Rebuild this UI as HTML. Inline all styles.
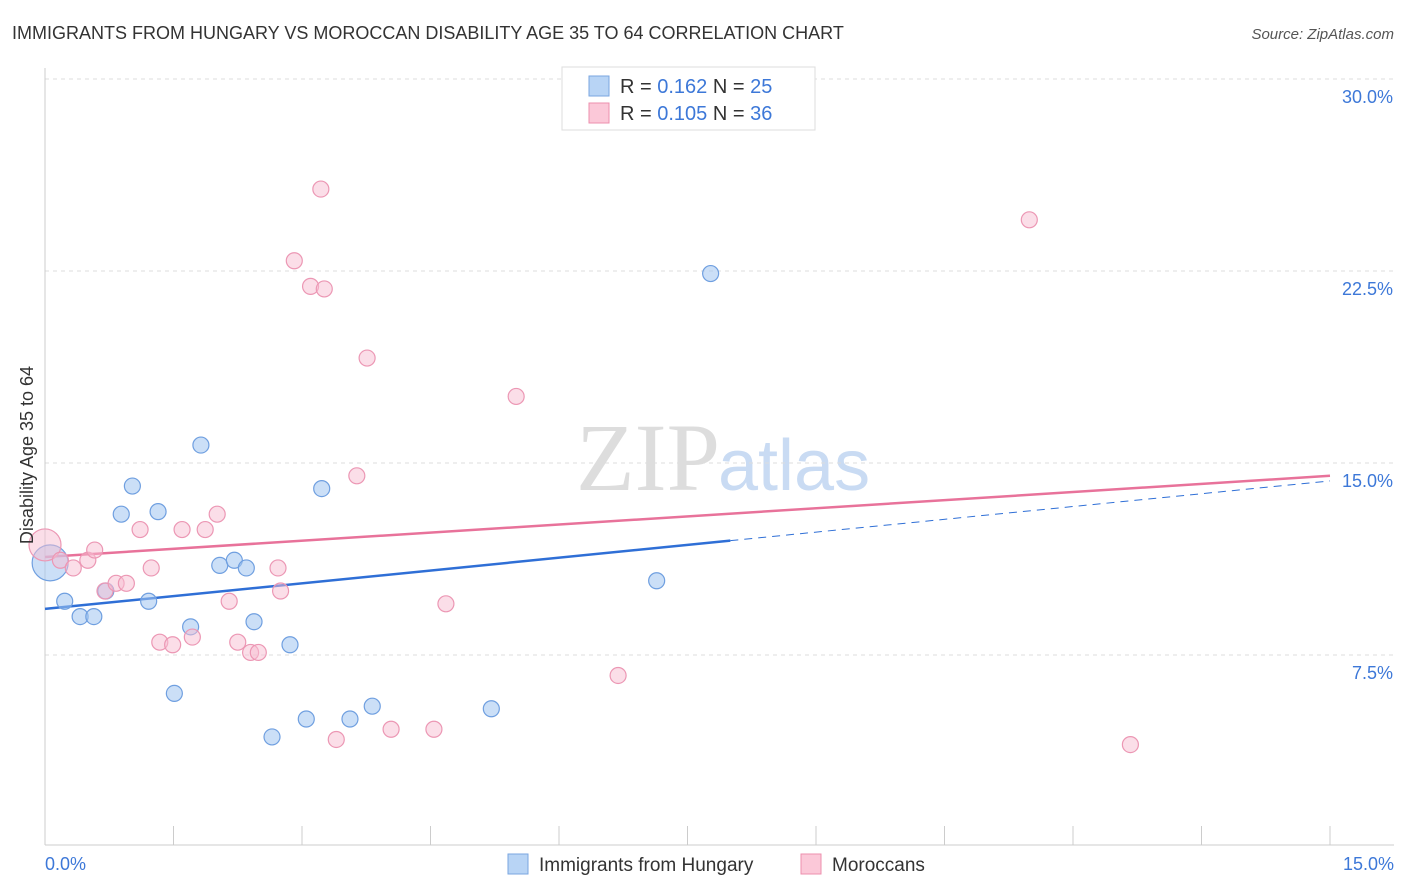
<!DOCTYPE html>
<html><head><meta charset="utf-8"><style>
body{margin:0;background:#fff;font-family:"Liberation Sans",sans-serif;}
#c{position:relative;width:1406px;height:892px;overflow:hidden;}
</style></head><body>
<div id="c">
<svg id="s" width="1406" height="892" xmlns="http://www.w3.org/2000/svg">
<text x="12" y="39" font-size="18" fill="#333">IMMIGRANTS FROM HUNGARY VS MOROCCAN DISABILITY AGE 35 TO 64 CORRELATION CHART</text>
<text x="1394" y="39" font-size="15" fill="#555" font-style="italic" text-anchor="end">Source: ZipAtlas.com</text>
<text x="720" y="490" font-size="96" fill="#ddd" text-anchor="end" font-family="Liberation Serif">ZIP</text>
<text x="718" y="490" font-size="72" fill="#c9dbf3">atlas</text>
<g id="grid"></g><g id="axes"></g><g id="lines"></g><g id="pts"></g>
<text transform="translate(33,455) rotate(-90)" font-size="18" fill="#333" text-anchor="middle">Disability Age 35 to 64</text>
<g>
<rect x="562" y="67" width="253" height="63" fill="#fff" stroke="#ddd"/>
<rect x="589" y="76" width="20" height="20" fill="#b8d4f5" stroke="#7aa6e0"/>
<rect x="589" y="103" width="20" height="20" fill="#fbc8d8" stroke="#ec8fae"/>
<text x="620" y="93" font-size="20" fill="#333">R = <tspan fill="#3d78d8">0.162</tspan>   N = <tspan fill="#3d78d8">25</tspan></text>
<text x="620" y="120" font-size="20" fill="#333">R = <tspan fill="#3d78d8">0.105</tspan>   N = <tspan fill="#3d78d8">36</tspan></text>
</g>
<g>
<rect x="508" y="854" width="20" height="20" fill="#b8d4f5" stroke="#7aa6e0"/>
<text x="539" y="871" font-size="19" fill="#333">Immigrants from Hungary</text>
<rect x="801" y="854" width="20" height="20" fill="#fbc8d8" stroke="#ec8fae"/>
<text x="832" y="871" font-size="19" fill="#333">Moroccans</text>
</g>
</svg></div>
<script>
const yTicks=[7.5,15,22.5,30];
const yTickLabels=["7.5%","15.0%","22.5%","30.0%"];
const hungaryX=[0.06,0.23,0.41,0.57,0.71,0.89,1.02,1.21,1.32,1.51,1.70,1.82,2.04,2.21,2.35,2.44,2.65,2.86,3.05,3.23,3.56,3.82,5.21,7.14,7.77];
const hungaryY=[11.1,9.6,9.0,9.0,10.0,13.0,14.1,9.6,13.1,6.0,8.6,15.7,11.0,11.2,10.9,8.8,4.3,7.9,5.0,14.0,5.0,5.5,5.4,10.4,22.4];
const moroccoX=[0.0,0.18,0.33,0.50,0.58,0.70,0.83,0.95,1.11,1.24,1.34,1.49,1.60,1.72,1.87,2.01,2.15,2.25,2.40,2.49,2.72,2.75,2.91,3.10,3.22,3.26,3.40,3.64,3.76,4.04,4.54,4.68,5.50,6.69,11.49,12.67];
const moroccoY=[11.8,11.2,10.9,11.2,11.6,10.0,10.3,10.3,12.4,10.9,8.0,7.9,12.4,8.2,12.4,13.0,9.6,8.0,7.6,7.6,10.9,10.0,22.9,21.9,25.7,21.8,4.2,14.5,19.1,4.6,4.6,9.5,17.6,6.7,24.5,4.0];
const hungaryFit=[9.3,14.3];
const moroccoFit=[11.33,14.5];
const X=v=>45+v*(1285/15);
const Y=v=>847-v*25.6;
const NS="http://www.w3.org/2000/svg";
function mk(p,t,a){const e=document.createElementNS(NS,t);for(const k in a)e.setAttribute(k,a[k]);p.appendChild(e);return e;}
const grid=document.getElementById('grid'),axes=document.getElementById('axes'),lines=document.getElementById('lines'),pts=document.getElementById('pts');
yTicks.forEach((t,i)=>{
 const l=mk(grid,'line',{x1:45,x2:1394,y1:Y(t),y2:Y(t),stroke:'#ddd','stroke-dasharray':'4,4'});
 
 
 const tx=mk(axes,'text',{x:1393,y:Y(t)+24,'font-size':18,fill:'#3d78d8','text-anchor':'end'});
 tx.textContent=yTickLabels[i];
 
 
});
const ax=mk(axes,'line',{x1:45,x2:1394,y1:845,y2:845,stroke:'#ccc'});


const ay=mk(axes,'line',{x1:45,x2:45,y1:68,y2:845,stroke:'#ccc'});


for(let i=0;i<=10;i++){const t=mk(axes,'line',{x1:X(i*1.5),x2:X(i*1.5),y1:826,y2:845,stroke:'#ccc'});
 
 }
const xl0=mk(axes,'text',{x:45,y:870,'font-size':18,fill:'#3d78d8'});xl0.textContent='0.0%';


const xl1=mk(axes,'text',{x:1394,y:870,'font-size':18,fill:'#3d78d8','text-anchor':'end'});xl1.textContent='15.0%';


const fy=(f,x)=>f[0]+(f[1]-f[0])*x/15;
let l1=mk(lines,'line',{x1:X(0),y1:Y(fy(hungaryFit,0)),x2:X(8),y2:Y(fy(hungaryFit,8)),stroke:'#2f6fd6','stroke-width':2.5});


let l2=mk(lines,'line',{x1:X(8),y1:Y(fy(hungaryFit,8)),x2:X(15),y2:Y(fy(hungaryFit,15)),stroke:'#2f6fd6','stroke-width':1,'stroke-dasharray':'8,6'});


let l3=mk(lines,'line',{x1:X(0),y1:Y(fy(moroccoFit,0)),x2:X(15),y2:Y(fy(moroccoFit,15)),stroke:'#e8729a','stroke-width':2.5});


hungaryX.forEach((x,i)=>{const c=mk(pts,'circle',{cx:X(x),cy:Y(hungaryY[i]),r:i==0?18:8,fill:'rgba(160,196,240,0.55)',stroke:'#6f9fe0','stroke-width':1.2});
 
 });
moroccoX.forEach((x,i)=>{const c=mk(pts,'circle',{cx:X(x),cy:Y(moroccoY[i]),r:i==0?16:8,fill:'rgba(248,190,210,0.5)',stroke:'#ec97b4','stroke-width':1.2});
 
 });
</script>
</body></html>
